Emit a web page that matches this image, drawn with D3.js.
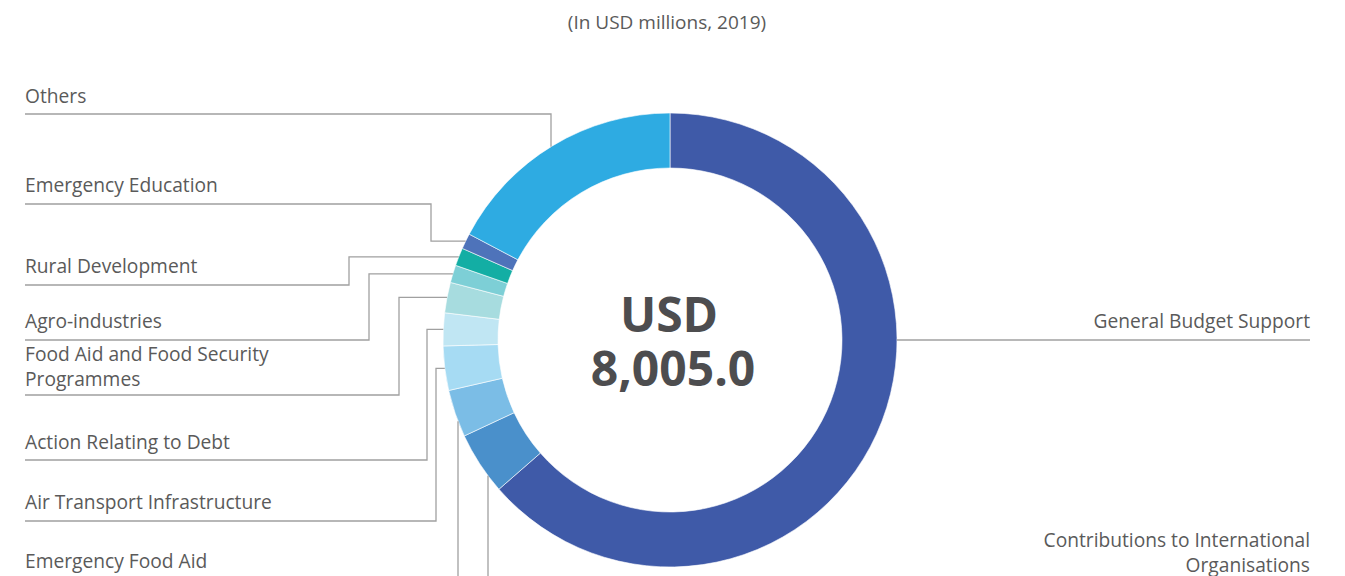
<!DOCTYPE html>
<html>
<head>
<meta charset="utf-8">
<script src="https://cdn.jsdelivr.net/npm/d3@7"></script>
<style>
  html, body { margin: 0; padding: 0; background: #fff; }
  svg { display: block; }
</style>
</head>
<body>
<svg id="chart" width="1345" height="576"></svg>
<script>
// ---- data ----
const subtitle = "(In USD millions, 2019)";
const totalLines = ["USD", "8,005.0"];
const categories = [
  "General Budget Support",
  "Contributions to International Organisations",
  "Emergency Food Aid",
  "Air Transport Infrastructure",
  "Action Relating to Debt",
  "Food Aid and Food Security Programmes",
  "Agro-industries",
  "Rural Development",
  "Emergency Education",
  "Others"
];
const values = [5089.8, 358.0, 270.2, 252.4, 186.8, 173.4, 100.1, 102.3, 88.9, 1383.1];
const colors = ["#3F5AA8", "#4A90CB", "#7BBDE6", "#A6DBF3", "#C0E6F3", "#A7DCDF", "#7DCFD6", "#13AEA4", "#4E73BA", "#2EABE2"];
const labelLines = [
  ["General Budget Support"],
  ["Contributions to International", "Organisations"],
  ["Emergency Food Aid"],
  ["Air Transport Infrastructure"],
  ["Action Relating to Debt"],
  ["Food Aid and Food Security", "Programmes"],
  ["Agro-industries"],
  ["Rural Development"],
  ["Emergency Education"],
  ["Others"]
];

// ---- layout (positions only) ----
const W = 1345, H = 576;
const cx = 670, cy = 340, R = 227, r0 = 172;
const leftX = 25, rightX = 1310, lineH = 25;
const layout = [
  { side: "right", baseline: 328, lineY: 340, mode: "horizontal" },
  { side: "right", baseline: 546.5, lineY: 582, elbowX: 488, mode: "vertical" },
  { side: "left",  baseline: 568, lineY: 580, elbowX: 458, mode: "vertical" },
  { side: "left",  baseline: 509, lineY: 521, elbowX: 436, mode: "elbow" },
  { side: "left",  baseline: 449, lineY: 460, elbowX: 427, mode: "elbow" },
  { side: "left",  baseline: 360.5, lineY: 395, elbowX: 399, mode: "elbow" },
  { side: "left",  baseline: 328, lineY: 340, elbowX: 369, mode: "elbow" },
  { side: "left",  baseline: 273, lineY: 285, elbowX: 349, mode: "elbow" },
  { side: "left",  baseline: 192, lineY: 204, elbowX: 431, mode: "elbow" },
  { side: "left",  baseline: 103, lineY: 114, elbowX: 551, mode: "vertical" }
];

const svg = d3.select("#chart");
const fontFamily = "'Open Sans', 'Noto Sans', sans-serif";
const labelSize = 19.2;

svg.append("text")
  .attr("x", 667).attr("y", 29)
  .attr("text-anchor", "middle")
  .attr("font-family", fontFamily)
  .attr("font-size", 19)
  .attr("fill", "#5a5a5a")
  .text(subtitle);

const data = categories.map((c, i) => ({ name: c, value: values[i], color: colors[i], lines: labelLines[i], layout: layout[i] }));

const pie = d3.pie().value(d => d.value).sort(null);
const arcs = pie(data);
const arc = d3.arc().innerRadius(r0).outerRadius(R);

const g = svg.append("g").attr("transform", `translate(${cx},${cy})`);
g.selectAll("path.slice")
  .data(arcs)
  .join("path")
  .attr("class", "slice")
  .attr("d", arc)
  .attr("fill", d => d.data.color)
  .attr("stroke", "#ffffff")
  .attr("stroke-width", 0.6);

// leader lines
function leaderPath(a) {
  const L = a.data.layout;
  const mid = (a.startAngle + a.endAngle) / 2;
  const p = d3.path();
  if (L.mode === "horizontal") {
    const ex = cx + Math.sqrt(R * R - (L.lineY - cy) * (L.lineY - cy));
    p.moveTo(rightX, L.lineY);
    p.lineTo(ex, L.lineY);
  } else if (L.mode === "vertical") {
    const dy = Math.sqrt(R * R - (L.elbowX - cx) * (L.elbowX - cx));
    const ey = L.lineY < cy ? cy - dy : cy + dy;
    p.moveTo(L.side === "left" ? leftX : rightX, L.lineY);
    p.lineTo(L.elbowX, L.lineY);
    p.lineTo(L.elbowX, ey);
  } else {
    const ax = cx + R * Math.sin(mid);
    const ay = cy - R * Math.cos(mid);
    p.moveTo(leftX, L.lineY);
    p.lineTo(L.elbowX, L.lineY);
    p.lineTo(L.elbowX, ay);
    p.lineTo(ax, ay);
  }
  return p.toString();
}

svg.append("g").selectAll("path.leader")
  .data(arcs)
  .join("path")
  .attr("class", "leader")
  .attr("d", leaderPath)
  .attr("fill", "none")
  .attr("stroke", "#a0a0a0")
  .attr("stroke-width", 1.3);

// labels (one text element per line)
const labelGroup = svg.append("g");
arcs.forEach(a => {
  const L = a.data.layout;
  a.data.lines.forEach((t, i) => {
    labelGroup.append("text")
      .attr("class", "label")
      .attr("font-family", fontFamily)
      .attr("font-size", labelSize)
      .attr("fill", "#5a5a5a")
      .attr("text-anchor", L.side === "left" ? "start" : "end")
      .attr("x", L.side === "left" ? leftX : rightX)
      .attr("y", L.baseline + i * lineH)
      .text(t);
  });
});

// centre total
totalLines.forEach((t, i) => {
  svg.append("text")
    .attr("text-anchor", "middle")
    .attr("font-family", fontFamily)
    .attr("font-weight", "bold")
    .attr("font-size", 48)
    .attr("fill", "#4d4d4f")
    .attr("x", cx + (i === 0 ? -1 : 3))
    .attr("y", 332 + i * 54)
    .text(t);
});
</script>
</body>
</html>
